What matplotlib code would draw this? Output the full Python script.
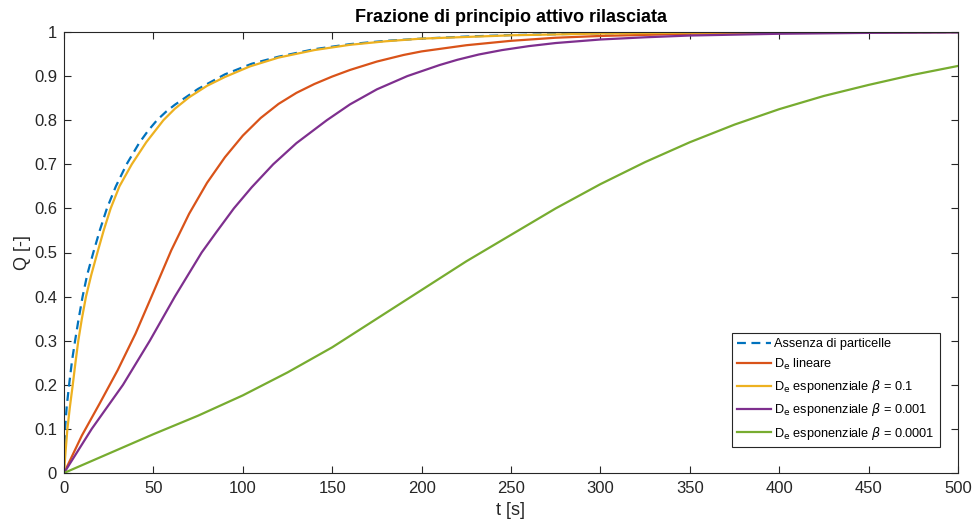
import matplotlib
matplotlib.use("Agg")
import matplotlib.pyplot as plt
from matplotlib import font_manager

# Release curves Q(t) for the different diffusivity models
t_assenza = [0, 0.25, 0.6, 1.5, 3.0, 4.5, 6.2, 8.0, 10.4, 13.0, 16.4, 20.0, 24.0,
             29.0, 35.0, 42.0, 47.0, 52.0, 57.0, 62.0, 75.0, 90.0, 105, 120, 140,
             160, 180, 200, 225, 250, 300, 350, 400, 450, 500]
q_assenza = [0, 0.062, 0.10, 0.15, 0.205, 0.255, 0.30, 0.345, 0.40, 0.45, 0.50,
             0.55, 0.60, 0.65, 0.70, 0.748, 0.776, 0.80, 0.819, 0.835, 0.871,
             0.904, 0.928, 0.944, 0.961, 0.9725, 0.980, 0.985, 0.9897, 0.993,
             0.997, 0.9985, 0.9993, 0.9997, 1.0]

t_lineare = [0, 10, 20, 30, 40, 50, 60, 70, 80, 90, 100, 110, 120, 130, 140, 150,
             160, 175, 190, 200, 225, 250, 275, 300, 350, 400, 450, 500]
q_lineare = [0, 0.085, 0.158, 0.233, 0.316, 0.41, 0.505, 0.588, 0.658, 0.716,
             0.765, 0.805, 0.837, 0.862, 0.882, 0.899, 0.914, 0.933, 0.948, 0.956,
             0.970, 0.980, 0.987, 0.991, 0.996, 0.998, 0.9995, 1.0]

t_exp_01 = [0, 0.9, 1.9, 3.3, 4.9, 6.4, 8.0, 10.0, 12.3, 15.3, 18.7, 22.2, 26.1,
            31.0, 37.9, 46.0, 55.6, 62.0, 70.0, 80.0, 90.0, 104, 120, 140, 160,
            180, 200, 250, 300, 350, 400, 500]
q_exp_01 = [0, 0.05, 0.10, 0.15, 0.20, 0.25, 0.30, 0.35, 0.40, 0.45, 0.50, 0.55,
            0.60, 0.65, 0.70, 0.75, 0.80, 0.826, 0.852, 0.878, 0.898, 0.922, 0.942,
            0.959, 0.971, 0.979, 0.985, 0.9925, 0.9965, 0.9985, 0.9993, 1.0]

t_exp_0001 = [0, 15.5, 33.0, 48.0, 62.0, 77.0, 85.0, 95.0, 105, 117, 130, 147,
              160, 175, 192, 210, 220, 232, 245, 260, 275, 300, 325, 350, 400,
              450, 500]
q_exp_0001 = [0, 0.10, 0.20, 0.30, 0.40, 0.50, 0.545, 0.60, 0.648, 0.70, 0.748,
              0.80, 0.836, 0.870, 0.90, 0.925, 0.937, 0.949, 0.959, 0.968, 0.975,
              0.983, 0.988, 0.992, 0.996, 0.998, 0.999]

t_exp_00001 = [0, 25, 50, 75, 100, 125, 150, 175, 200, 225, 250, 275, 300,
               325, 350, 375, 400, 425, 450, 475, 500]
q_exp_00001 = [0, 0.044, 0.088, 0.130, 0.176, 0.228, 0.285, 0.350, 0.415, 0.480,
               0.540, 0.600, 0.655, 0.705, 0.750, 0.790, 0.825, 0.855, 0.880,
               0.903, 0.923]

x_ticks = [0, 50, 100, 150, 200, 250, 300, 350, 400, 450, 500]
y_ticks = [0, 0.1, 0.2, 0.3, 0.4, 0.5, 0.6, 0.7, 0.8, 0.9, 1]
y_tick_labels = ["0", "0.1", "0.2", "0.3", "0.4", "0.5", "0.6", "0.7", "0.8", "0.9", "1"]

names = {f.name for f in font_manager.fontManager.ttflist}
family = "Liberation Sans Narrow" if "Liberation Sans Narrow" in names else "Liberation Sans"
plt.rcParams["font.family"] = [family, "DejaVu Sans"]
plt.rcParams["mathtext.fontset"] = "dejavusans"

axcol = "#262626"
fig = plt.figure(figsize=(9.76, 5.26), dpi=100)
ax = fig.add_axes([64 / 976, 1 - 473 / 526, (958 - 64) / 976, (473 - 32) / 526])

ax.plot(t_assenza, q_assenza, "--", color="#0072BD", lw=1.6, dashes=(4, 2.5),
        label="Assenza di particelle")
ax.plot(t_lineare, q_lineare, color="#D95319", lw=1.6,
        label=r"D$_\mathrm{e}$ lineare")
ax.plot(t_exp_01, q_exp_01, color="#EDB120", lw=1.6,
        label=r"D$_\mathrm{e}$ esponenziale $\beta$ = 0.1")
ax.plot(t_exp_0001, q_exp_0001, color="#7E2F8E", lw=1.6,
        label=r"D$_\mathrm{e}$ esponenziale $\beta$ = 0.001")
ax.plot(t_exp_00001, q_exp_00001, color="#77AC30", lw=1.6,
        label=r"D$_\mathrm{e}$ esponenziale $\beta$ = 0.0001")

ax.set_xlim(0, 500)
ax.set_ylim(0, 1)
ax.set_xticks(x_ticks)
ax.set_yticks(y_ticks)
ax.set_yticklabels(y_tick_labels)
ax.tick_params(direction="in", length=5, width=0.8, colors=axcol, labelsize=12,
               top=True, right=True, pad=6)
ax.tick_params(axis="y", pad=5)
for s in ax.spines.values():
    s.set_color(axcol)
    s.set_linewidth(0.8)

ax.set_xlabel("t [s]", fontsize=13, color=axcol, labelpad=4)
ax.set_ylabel("Q [-]", fontsize=13, color=axcol, labelpad=2)
ax.set_title("Frazione di principio attivo rilasciata", fontsize=13,
             fontweight="bold", pad=7)

leg = ax.legend(loc="lower right", bbox_to_anchor=(0.98, 0.059), borderaxespad=0,
                fontsize=9.2, frameon=True, fancybox=False, edgecolor=axcol,
                framealpha=1, handlelength=2.6, borderpad=0.4, labelspacing=0.5,
                handletextpad=0.3)
leg.get_frame().set_linewidth(0.8)

fig.savefig("out.png", dpi=100)
